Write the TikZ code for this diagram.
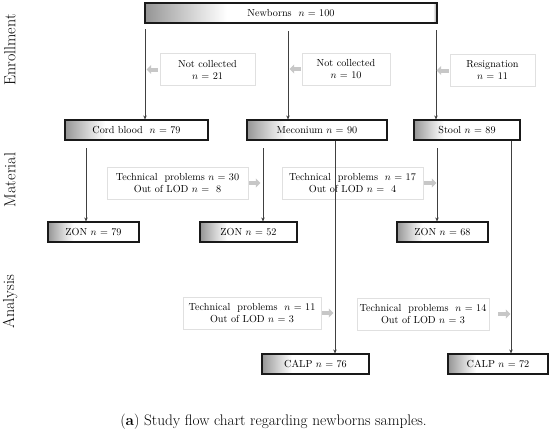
\documentclass[tikz,border=0pt]{standalone}
\usetikzlibrary{arrows.meta}
\pgfdeclarehorizontalshading{boxshade}{100bp}{color(0bp)=(black!42); color(25bp)=(black!42); color(28bp)=(black!32); color(34bp)=(black!14); color(39bp)=(white); color(74.3bp)=(white); color(75bp)=(black!40); color(100bp)=(black!40)}
\begin{document}
\begin{tikzpicture}[x=1pt,y=-1pt,
  stagebox/.style={draw=black!90, line width=1.1pt, shade, shading=boxshade, minimum height=20pt, inner sep=0pt, font=\fontsize{10.2}{12}\selectfont},
  note/.style={draw=black!12, line width=0.6pt, fill=white, minimum height=32pt, align=center, inner sep=0pt, font=\fontsize{10.2}{12}\selectfont},
  arr/.style={draw=black!75, line width=0.7pt, -{Stealth[length=4pt,width=3.5pt]}},
  ga/.style={line width=4pt, draw=black!22, -{Triangle[length=4.5pt,width=9pt]}},
  side/.style={rotate=90, font=\fontsize{16}{18}\selectfont}]
\useasboundingbox (0,0) rectangle (550,431);
% side labels
\node[side] (lenr) at (10,50) {Enrollment};
\node[side] (lmat) at (10,180) {Material};
\node[side] (lana) at (10,302) {Analysis};
% main boxes
\node[stagebox, minimum width=292pt] (nb) at (291,13) {Newborns \ $n$ = 100};
\node[stagebox, minimum width=143pt] (cb) at (136.5,130) {Cord blood \ $n$ = 79};
\node[stagebox, minimum width=140pt] (me) at (317,130) {Meconium $n$ = 90};
\node[stagebox, minimum width=106pt] (st) at (467,130) {Stool $n$ = 89};
\node[stagebox, minimum width=91pt] (z1) at (93.5,232) {ZON $n$ = 79};
\node[stagebox, minimum width=97pt] (z2) at (248.5,232) {ZON $n$ = 52};
\node[stagebox, minimum width=91pt] (z3) at (442.5,232) {ZON $n$ = 68};
\node[stagebox, minimum width=107pt] (c1) at (315.5,364) {CALP $n$ = 76};
\node[stagebox, minimum width=100pt] (c2) at (498,364) {CALP $n$ = 72};
% notes
\node[note, minimum width=95pt] (n1) at (207.5,69.5) {Not collected\\$n$ = 21};
\node[note, minimum width=88pt] (n2) at (346,69) {Not collected\\$n$ = 10};
\node[note, minimum width=85pt] (n3) at (492.5,70.5) {Resignation\\$n$ = 11};
\node[note, minimum width=141pt] (t1) at (177.5,183) {Technical\ \ problems $n$ = 30\\Out of LOD $n$ = \ 8};
\node[note, minimum width=141pt] (t2) at (352.5,183) {Technical\ \ problems \ $n$ = 17\\Out of LOD $n$ = \ 4};
\node[note, minimum width=138pt] (t3) at (252,313) {Technical\ \ problems \ $n$ = 11\\Out of LOD $n$ = 3};
\node[note, minimum width=132pt] (t4) at (423,314) {Technical\ \ problems \ $n$ = 14\\Out of LOD $n$ = 3};
% connector start points
\coordinate (sa1) at (145,29);
\coordinate (sa2) at (288,31);
\coordinate (sa3) at (436,30);
\coordinate (sb1) at (86,148);
\coordinate (sb2) at (263,148);
\coordinate (sb3) at (437,148);
\coordinate (xc1) at (335,0);
\coordinate (xc2) at (511,0);
% vertical arrows
\draw[arr] (sa1) -- (sa1 |- cb.north);
\draw[arr] (sa2) -- (sa2 |- me.north);
\draw[arr] (sa3) -- (sa3 |- st.north);
\draw[arr] (sb1) -- (sb1 |- z1.north);
\draw[arr] (sb2) -- (sb2 |- z2.north);
\draw[arr] (sb3) -- (sb3 |- z3.north);
\draw[arr] (me.south -| xc1) -- (c1.north -| xc1);
\draw[arr] (st.south -| xc2) -- (c2.north -| xc2);
% grey block arrows
\draw[ga] ([xshift=-2pt]n1.west) -- ++(-11,0);
\draw[ga] ([xshift=-1pt]n2.west) -- ++(-11,0);
\draw[ga] ([xshift=-1pt]n3.west) -- ++(-12,0);
\draw[ga] ([xshift=1pt]t1.east) -- ++(11,0);
\draw[ga] ([xshift=1pt]t2.east) -- ++(12,0);
\draw[ga] ([xshift=1pt]t3.east) -- ++(11,0);
\draw[ga] ([xshift=9pt]t4.east) -- ++(12,0);
% caption
\node[font=\fontsize{15.3}{18}\selectfont] (cap) at (273.5,422) {(\textbf{a}) Study flow chart regarding newborns samples.};
\end{tikzpicture}
\end{document}
